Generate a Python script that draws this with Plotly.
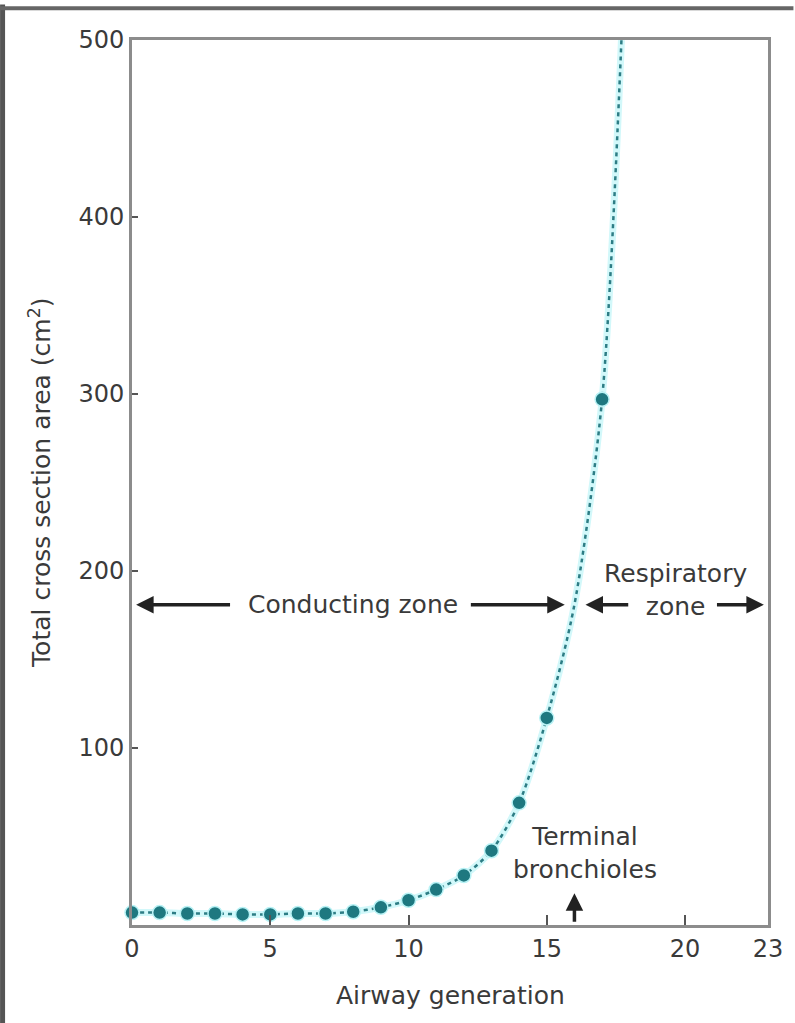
import plotly.graph_objects as go

# Data
generations = [0, 1, 2, 3, 4, 5, 6, 7, 8, 9, 10, 11, 12, 13, 14, 15, 17]
area_cm2 = [7, 7, 6.5, 6.5, 6, 6, 6.5, 6.5, 7.5, 10, 14, 20, 28, 42, 69, 117, 297]
# curve-only readings (no dots there)
curve_extra_gen = [16, 17.7]
curve_extra_area = [181, 500]

x_ticks = [0, 5, 10, 15, 20, 23]
y_ticks = [100, 200, 300, 400, 500]

curve = sorted(zip(generations + curve_extra_gen, area_cm2 + curve_extra_area))
cx = [c[0] for c in curve]
cy = [c[1] for c in curve]

TXT = "#3a3a3a"
FONT = "DejaVu Sans, Verdana, sans-serif"

fig = go.Figure()
fig.add_trace(go.Scatter(x=cx, y=cy, mode="lines",
                         line=dict(color="#d2f8fa", width=7, shape="spline", smoothing=0.8),
                         hoverinfo="skip", showlegend=False))
fig.add_trace(go.Scatter(x=cx, y=cy, mode="lines",
                         line=dict(color="#2d7d85", width=2.5, dash="4px,4px", shape="spline", smoothing=0.8),
                         hoverinfo="skip", showlegend=False))
fig.add_trace(go.Scatter(x=generations, y=area_cm2, mode="markers",
                         marker=dict(color="#1e7880", size=14,
                                     line=dict(color="#b8f2f5", width=1.5)),
                         showlegend=False, cliponaxis=False))

axis_common = dict(showline=True, linecolor="#8c8c8c", linewidth=3, mirror=True,
                   ticks="inside", tickcolor="#555", tickwidth=2,
                   showgrid=False, zeroline=False,
                   tickfont=dict(family=FONT, size=24, color=TXT))

fig.update_xaxes(range=[0, 23], tickvals=x_ticks, ticklen=10, **axis_common)
fig.update_yaxes(range=[0, 500], tickvals=y_ticks, ticklen=6, **axis_common)

ann_font = dict(family=FONT, size=25, color=TXT)
annotations = [
    dict(x=7.99, y=181, text="Conducting zone", showarrow=False, font=ann_font),
    dict(x=19.65, y=189, text="Respiratory<br>zone", showarrow=False, font=ann_font,
         yanchor="middle"),
    dict(x=16.37, y=40.4, text="Terminal<br>bronchioles", showarrow=False, font=ann_font,
         yanchor="middle"),
]
arrow_style = dict(showarrow=True, arrowhead=2, arrowsize=1.0, arrowwidth=3.5,
                   arrowcolor="#222", axref="x", ayref="y", text="")
arrows = [
    (0.15, 181, 3.6, 181),
    (15.65, 181, 12.2, 181),
    (16.4, 181, 18.0, 181),
    (22.85, 181, 21.1, 181),
    (16.0, 18, 16.0, 1),
]
for hx, hy, tx, ty in arrows:
    annotations.append(dict(x=hx, y=hy, ax=tx, ay=ty, **arrow_style))

annotations.append(dict(xref="paper", yref="paper", x=0.5, y=-0.08, xanchor="center",
                        yanchor="middle", text="Airway generation", showarrow=False, font=ann_font))
annotations.append(dict(xref="paper", yref="paper", x=(40 - 132) / 639, y=0.5,
                        xanchor="center", yanchor="middle",
                        text="Total cross section area (cm<sup>2</sup>)", textangle=-90,
                        showarrow=False, font=ann_font))

fig.update_layout(
    width=795, height=1023,
    margin=dict(l=132, r=24, t=40, b=98),
    paper_bgcolor="white", plot_bgcolor="white",
    annotations=annotations,
    shapes=[
        dict(type="line", xref="paper", yref="paper", x0=-0.2035, x1=-0.2035, y0=-0.12, y1=1.04,
             line=dict(color="#555", width=5)),
        dict(type="line", xref="paper", yref="paper", x0=-0.21, x1=1.04, y0=1.036, y1=1.036,
             line=dict(color="#666", width=4)),
    ],
)

fig.write_html("out.html", config={"displayModeBar": False},
               post_script="document.body.style.margin='0';")
